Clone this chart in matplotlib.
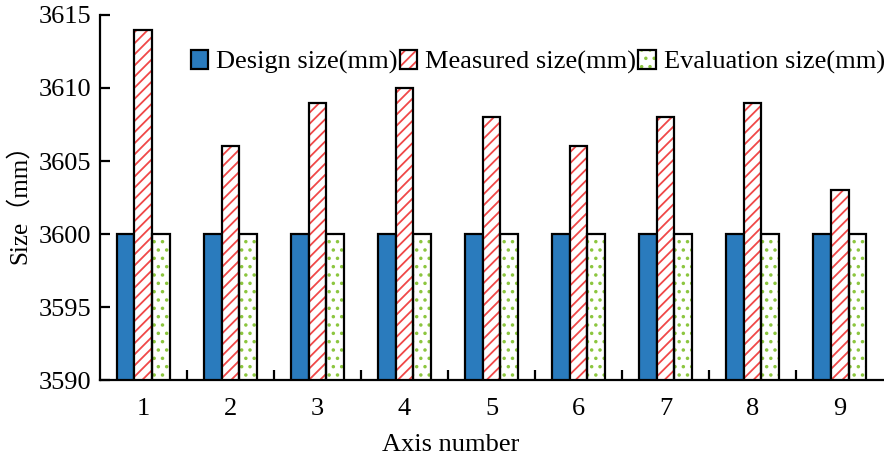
import matplotlib
matplotlib.use("Agg")
import matplotlib.pyplot as plt
import numpy as np
from matplotlib.patches import Patch
from matplotlib.ticker import FixedLocator

axis_numbers = [1, 2, 3, 4, 5, 6, 7, 8, 9]
design_size = [3600, 3600, 3600, 3600, 3600, 3600, 3600, 3600, 3600]
measured_size = [3614, 3606, 3609, 3610, 3608, 3606, 3608, 3609, 3603]
evaluation_size = [3600, 3600, 3600, 3600, 3600, 3600, 3600, 3600, 3600]
series_names = ["Design size(mm)", "Measured size(mm)", "Evaluation size(mm)"]
y_ticks = [3590, 3595, 3600, 3605, 3610, 3615]

plt.rcParams['font.family'] = ['Liberation Serif', 'Noto Sans CJK SC']
plt.rcParams['hatch.linewidth'] = 1.3

fig = plt.figure(figsize=(8.84, 4.67), dpi=100)
ax = fig.add_axes([0.113, 0.186, 0.886, 0.782])

x = np.array(axis_numbers, dtype=float)
w = 0.205
base = 3590
blue = '#2a7bbd'
red = '#f04848'
green = '#8cc63f'

ax.bar(x - w, np.array(design_size) - base, w, bottom=base, color=blue,
       edgecolor='black', linewidth=1.6, zorder=3)
ax.bar(x, np.array(measured_size) - base, w, bottom=base, color='white',
       edgecolor=red, hatch='///', linewidth=0, zorder=3)
ax.bar(x, np.array(measured_size) - base, w, bottom=base, color='none',
       edgecolor='black', linewidth=1.6, zorder=4)
ax.bar(x + w, np.array(evaluation_size) - base, w, bottom=base, color='white',
       edgecolor=green, hatch='..', linewidth=0, zorder=3)
ax.bar(x + w, np.array(evaluation_size) - base, w, bottom=base, color='none',
       edgecolor='black', linewidth=1.6, zorder=4)

ax.set_xlim(0.5, 9.5)
ax.set_ylim(3590, 3615)
ax.set_yticks(y_ticks)
ax.set_xticks(axis_numbers)
ax.set_xticklabels([str(a) for a in axis_numbers])
ax.xaxis.set_minor_locator(FixedLocator([i + 0.5 for i in range(1, 9)]))
ax.tick_params(axis='x', which='major', length=0, labelsize=19, pad=13)
ax.tick_params(axis='x', which='minor', direction='in', length=7, width=1.6)
ax.tick_params(axis='y', direction='in', length=7, width=1.6, labelsize=19, pad=6)

for s in ['top', 'right']:
    ax.spines[s].set_visible(False)
for s in ['left', 'bottom']:
    ax.spines[s].set_linewidth(1.6)

ax.set_xlabel("Axis number", fontsize=19, labelpad=10, x=0.448)
ax.set_ylabel("Size（mm）", fontsize=18, labelpad=6)

h1 = Patch(facecolor=blue, edgecolor='black', linewidth=1.6)
h2 = (Patch(facecolor='white', edgecolor=red, hatch='///', linewidth=0),
      Patch(facecolor='none', edgecolor='black', linewidth=1.6))
h3 = (Patch(facecolor='white', edgecolor=green, hatch='..', linewidth=0),
      Patch(facecolor='none', edgecolor='black', linewidth=1.6))
ax.legend([h1, h2, h3], series_names, ncol=3, frameon=False, fontsize=19,
          loc='center right', bbox_to_anchor=(1.002, 0.872),
          handlelength=0.65, handleheight=0.75, handletextpad=0.3,
          columnspacing=0.1, borderaxespad=0, borderpad=0)

fig.savefig("out.png", dpi=100)
